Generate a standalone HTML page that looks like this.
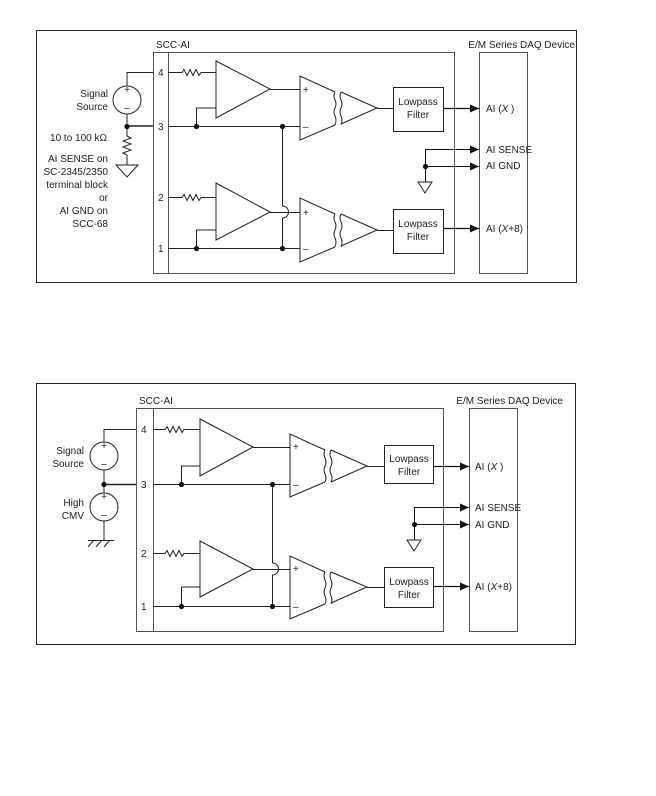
<!DOCTYPE html>
<html><head><meta charset="utf-8"><style>
html,body{margin:0;padding:0;background:#fff;}
svg{display:block;}
text{font-family:"Liberation Sans",sans-serif;font-size:10px;fill:#222;}
</style></head><body>
<svg width="656" height="796" viewBox="0 0 656 796" xmlns="http://www.w3.org/2000/svg">
<defs>
<marker id="ar" markerWidth="9" markerHeight="8" refX="9" refY="4" orient="auto" markerUnits="userSpaceOnUse"><path d="M0,0 L9,4 L0,8 z" fill="#111"/></marker>
</defs>
<g fill="none" stroke="#222" stroke-width="1">
<!-- ===== TOP ===== -->
<rect x="36.5" y="30.5" width="540" height="252" stroke="#222"/>
<rect x="153.5" y="52.5" width="301" height="221" stroke="#555"/>
<line x1="168.5" y1="52" x2="168.5" y2="274" stroke="#555"/>
<rect x="479.5" y="52.5" width="48" height="221" stroke="#555"/>
<circle cx="127" cy="100" r="14"/>
<path d="M127,86 V72.5 H153"/>
<path d="M127,114 V126"/>
<path d="M127,126 H153" stroke-width="1.6"/>
<path d="M127,126 V136 l4,2 l-8,3 l8,3 l-8,3 l8,3 l-8,3 l4,2 V165"/>
<path d="M116,165 H138 L127,177 Z"/>
<path d="M168,72.5 H182 l2,-3 l3,6 l3,-6 l3,6 l3,-6 l3,6 l2,-3 H216"/>
<path d="M216,61 V118 L270,89 Z"/>
<path d="M216,108 H196.5 V126"/>
<path d="M168,126.5 H300"/>
<path d="M270,89.5 H300"/>
<path d="M335,92 L300,76 V140 L335,125"/>
<path d="M335,92 q-2,4 0,8 q2,4 0,8 q-2,4 0,8 q2,4 0,9"/>
<path d="M341,92 q-2,4 0,8 q2,4 0,8 q-2,4 0,8 q2,4 0,9"/>
<path d="M341,92 L377,108 L341,124"/>
<path d="M377,108.5 H393"/>
<rect x="393.5" y="87.5" width="50" height="44"/>
<path d="M443,108.5 H479" stroke="#111" stroke-width="1.3" marker-end="url(#ar)"/>
<path d="M168,197.5 H182 l2,-3 l3,6 l3,-6 l3,6 l3,-6 l3,6 l2,-3 H216"/>
<path d="M216,183 V240 L270,212 Z"/>
<path d="M216,230 H196.5 V248"/>
<path d="M168,248.5 H300"/>
<path d="M270,212.5 H300"/>
<path d="M282.5,126 V206 a6,6 0 0 1 0,12 V248"/>
<path d="M335,214 L300,198 V262 L335,247"/>
<path d="M335,214 q-2,4 0,8 q2,4 0,8 q-2,4 0,8 q2,4 0,9"/>
<path d="M341,214 q-2,4 0,8 q2,4 0,8 q-2,4 0,8 q2,4 0,9"/>
<path d="M341,214 L377,230 L341,246"/>
<path d="M377,230.5 H393"/>
<rect x="393.5" y="209.5" width="50" height="44"/>
<path d="M443,228.5 H479" stroke="#111" stroke-width="1.3" marker-end="url(#ar)"/>
<path d="M425.5,182 V149.5 H479" stroke="#111" marker-end="url(#ar)"/>
<path d="M425,166.5 H479" stroke="#111" marker-end="url(#ar)"/>
<path d="M418,182 H432 L425,193 Z"/>

<!-- ===== BOTTOM ===== -->
<rect x="36.5" y="383.5" width="539" height="261" stroke="#222"/>
<rect x="136.5" y="408.5" width="307" height="223" stroke="#555"/>
<line x1="153.5" y1="408" x2="153.5" y2="632" stroke="#555"/>
<rect x="469.5" y="408.5" width="48" height="223" stroke="#555"/>
<circle cx="104" cy="456" r="14"/>
<circle cx="104" cy="507" r="14"/>
<path d="M104,442 V429.5 H136"/>
<path d="M104,470 V493"/>
<path d="M104,484.5 H136" stroke-width="1.6"/>
<path d="M104,521 V540"/>
<path d="M88,540.5 H114 M94,540 l-6,7 M102,540 l-6,7 M110,540 l-6,7"/>
<path d="M153,429.5 H165 l2,-3 l3,6 l3,-6 l3,6 l3,-6 l3,6 l2,-3 H200"/>
<path d="M200,419 V476 L253,447 Z"/>
<path d="M200,466 H181.5 V484"/>
<path d="M153,484.5 H290"/>
<path d="M253,447.5 H290"/>
<path d="M325,450 L290,434 V497 L325,482"/>
<path d="M325,450 q-2,4 0,8 q2,4 0,8 q-2,4 0,8 q2,4 0,8"/>
<path d="M331,450 q-2,4 0,8 q2,4 0,8 q-2,4 0,8 q2,4 0,8"/>
<path d="M331,450 L367,466 L331,482"/>
<path d="M367,466.5 H384"/>
<rect x="384.5" y="445.5" width="49" height="38"/>
<path d="M433,466.5 H469" stroke="#111" stroke-width="1.3" marker-end="url(#ar)"/>
<path d="M153,553.5 H165 l2,-3 l3,6 l3,-6 l3,6 l3,-6 l3,6 l2,-3 H200"/>
<path d="M200,541 V597 L253,569 Z"/>
<path d="M200,587 H181.5 V606"/>
<path d="M153,606.5 H290"/>
<path d="M253,569.5 H290"/>
<path d="M272.5,484 V563 a6,6 0 0 1 0,12 V606"/>
<path d="M325,572 L290,556 V619 L325,604"/>
<path d="M325,572 q-2,4 0,8 q2,4 0,8 q-2,4 0,8 q2,4 0,8"/>
<path d="M331,572 q-2,4 0,8 q2,4 0,8 q-2,4 0,8 q2,4 0,8"/>
<path d="M331,572 L367,587 L331,603"/>
<path d="M367,587.5 H384"/>
<rect x="384.5" y="567.5" width="49" height="40"/>
<path d="M433,586.5 H469" stroke="#111" stroke-width="1.3" marker-end="url(#ar)"/>
<path d="M414.5,540 V507.5 H469" stroke="#111" marker-end="url(#ar)"/>
<path d="M414,524.5 H469" stroke="#111" marker-end="url(#ar)"/>
<path d="M407,540 H421 L414,551 Z"/>
</g>
<g fill="#111">
<circle cx="127" cy="126.5" r="2.6"/><circle cx="196.5" cy="126.5" r="2.6"/><circle cx="282.5" cy="126.5" r="2.6"/>
<circle cx="196.5" cy="248.5" r="2.6"/><circle cx="282.5" cy="248.5" r="2.6"/><circle cx="425.5" cy="166.5" r="2.6"/>
<circle cx="104" cy="484.5" r="2.6"/><circle cx="181.5" cy="484.5" r="2.6"/><circle cx="272.5" cy="484.5" r="2.6"/>
<circle cx="181.5" cy="606.5" r="2.6"/><circle cx="272.5" cy="606.5" r="2.6"/><circle cx="414.5" cy="524.5" r="2.6"/>
</g>
<text x="156" y="48">SCC-AI</text>
<text x="575" y="48" text-anchor="end">E/M Series DAQ Device</text>
<text x="108" y="97" text-anchor="end">Signal</text>
<text x="108" y="110" text-anchor="end">Source</text>
<text x="127" y="93" text-anchor="middle" font-size="8">+</text>
<text x="127" y="111" text-anchor="middle" font-size="8">–</text>
<text x="107" y="141" text-anchor="end">10 to 100 kΩ</text>
<text x="108" y="162" text-anchor="end">AI SENSE on</text>
<text x="108" y="175" text-anchor="end">SC-2345/2350</text>
<text x="108" y="188" text-anchor="end">terminal block</text>
<text x="108" y="201" text-anchor="end">or</text>
<text x="108" y="214" text-anchor="end">AI GND on</text>
<text x="108" y="227" text-anchor="end">SCC-68</text>
<text x="158" y="76">4</text><text x="158" y="130">3</text><text x="158" y="201">2</text><text x="158" y="252">1</text>
<text x="303" y="93" font-size="8">+</text><text x="303" y="130" font-size="8">–</text>
<text x="303" y="216" font-size="8">+</text><text x="303" y="252" font-size="8">–</text>
<text x="418" y="105" text-anchor="middle">Lowpass</text><text x="418" y="118" text-anchor="middle">Filter</text>
<text x="418" y="227" text-anchor="middle">Lowpass</text><text x="418" y="240" text-anchor="middle">Filter</text>
<text x="486" y="112">AI (<tspan font-style="italic">X</tspan> )</text>
<text x="486" y="153">AI SENSE</text>
<text x="486" y="169">AI GND</text>
<text x="486" y="232">AI (<tspan font-style="italic">X</tspan>+8)</text>
<text x="139" y="404">SCC-AI</text>
<text x="563" y="404" text-anchor="end">E/M Series DAQ Device</text>
<text x="84" y="454" text-anchor="end">Signal</text>
<text x="84" y="467" text-anchor="end">Source</text>
<text x="84" y="506" text-anchor="end">High</text>
<text x="84" y="519" text-anchor="end">CMV</text>
<text x="104" y="449" text-anchor="middle" font-size="8">+</text>
<text x="104" y="467" text-anchor="middle" font-size="8">–</text>
<text x="104" y="500" text-anchor="middle" font-size="8">+</text>
<text x="104" y="518" text-anchor="middle" font-size="8">–</text>
<text x="141" y="433">4</text><text x="141" y="488">3</text><text x="141" y="557">2</text><text x="141" y="610">1</text>
<text x="293" y="450" font-size="8">+</text><text x="293" y="488" font-size="8">–</text>
<text x="293" y="572" font-size="8">+</text><text x="293" y="610" font-size="8">–</text>
<text x="409" y="462" text-anchor="middle">Lowpass</text><text x="409" y="475" text-anchor="middle">Filter</text>
<text x="409" y="585" text-anchor="middle">Lowpass</text><text x="409" y="598" text-anchor="middle">Filter</text>
<text x="475" y="470">AI (<tspan font-style="italic">X</tspan> )</text>
<text x="475" y="511">AI SENSE</text>
<text x="475" y="528">AI GND</text>
<text x="475" y="590">AI (<tspan font-style="italic">X</tspan>+8)</text>
</svg>
</body></html>
